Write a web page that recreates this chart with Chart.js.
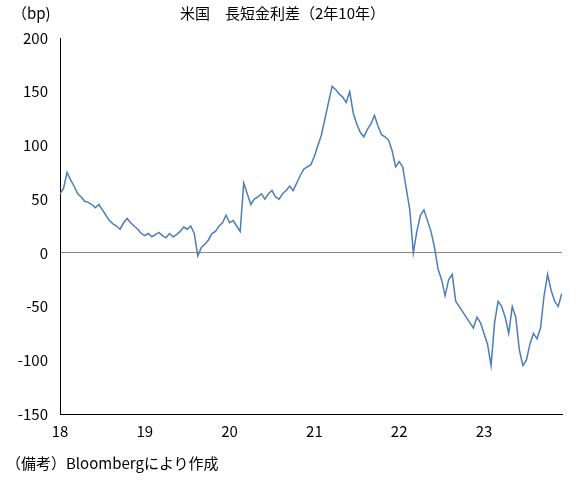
<!DOCTYPE html>
<html><head><meta charset="utf-8">
<script src="https://cdn.jsdelivr.net/npm/chart.js@4/dist/chart.umd.min.js"></script>
<style>
body{margin:0;background:#fff;font-family:"Noto Sans CJK JP",sans-serif;}
#wrap{position:relative;width:584px;height:492px;}
.t{position:absolute;font-size:15px;color:#000;white-space:nowrap;}
</style></head><body>
<div id="wrap">
<canvas id="c" width="584" height="492"></canvas>
<div class="t" style="left:12px;top:2px;">（bp)</div>
<div class="t" style="left:180px;top:2px;">米国　長短金利差（2年10年）</div>
<div class="t" style="left:6px;top:452px;">（備考）Bloombergにより作成</div>
</div>
<script>
const startYear = 2018;
const stepsPerYear = 24;
const spread2018 = [55,60,75,68,62,55,52,48,47,45,42,45,40,35,30,27,25,22,28,32,28,25,22,18];
const spread2019 = [16,18,15,17,19,16,14,18,15,17,20,24,22,25,18,-3,5,8,12,18,20,25,28,35];
const spread2020 = [28,30,25,20,65,55,45,50,52,55,50,55,58,52,50,55,58,62,58,65,72,78,80,82];
const spread2021 = [90,100,110,125,140,155,152,148,145,140,150,130,120,112,108,115,120,128,118,110,108,105,95,80];
const spread2022 = [85,80,60,40,0,20,35,40,30,20,5,-15,-25,-40,-25,-20,-45,-50,-55,-60,-65,-70,-60,-65];
const spread2023 = [-75,-85,-105,-65,-45,-50,-60,-75,-50,-60,-90,-105,-100,-85,-75,-80,-70,-40,-20,-35,-45,-50,-38];
const yTicks = [200,150,100,50,0,-50,-100,-150];
const xTickLabels = {2018:"18",2019:"19",2020:"20",2021:"21",2022:"22",2023:"23"};

const values = [].concat(spread2018,spread2019,spread2020,spread2021,spread2022,spread2023);
const pts = values.map((v,i)=>({x:startYear+i/stepsPerYear,y:v}));

new Chart(document.getElementById('c'),{
 type:'line',
 data:{datasets:[{data:pts,borderColor:'#4a7ebb',borderWidth:1.5,pointRadius:0,tension:0}]},
 options:{responsive:false,animation:false,
  layout:{padding:{top:38,right:22,bottom:48,left:0}},
  plugins:{legend:{display:false},tooltip:{enabled:false}},
  scales:{
   x:{type:'linear',min:2018,max:2023.92,
      grid:{display:false,drawTicks:false},border:{color:'#000'},
      afterBuildTicks:s=>{s.ticks=Object.keys(xTickLabels).map(k=>({value:+k}));},
      afterFit:s=>{s.height=30;},
      ticks:{color:'#000',font:{size:15,family:'"Noto Sans CJK JP"'},padding:8,maxRotation:0,callback:v=>xTickLabels[v]||''}},
   y:{min:-150,max:200,
      afterBuildTicks:s=>{s.ticks=yTicks.map(v=>({value:v}));},
      afterFit:s=>{s.width=60;},
      grid:{drawTicks:false,color:c=>c.tick&&c.tick.value===0?'#888':'transparent',lineWidth:1},
      border:{color:'#000'},
      ticks:{color:'#000',font:{size:15,family:'"Noto Sans CJK JP"'},padding:12}}
  }}
});
</script>
</body></html>
